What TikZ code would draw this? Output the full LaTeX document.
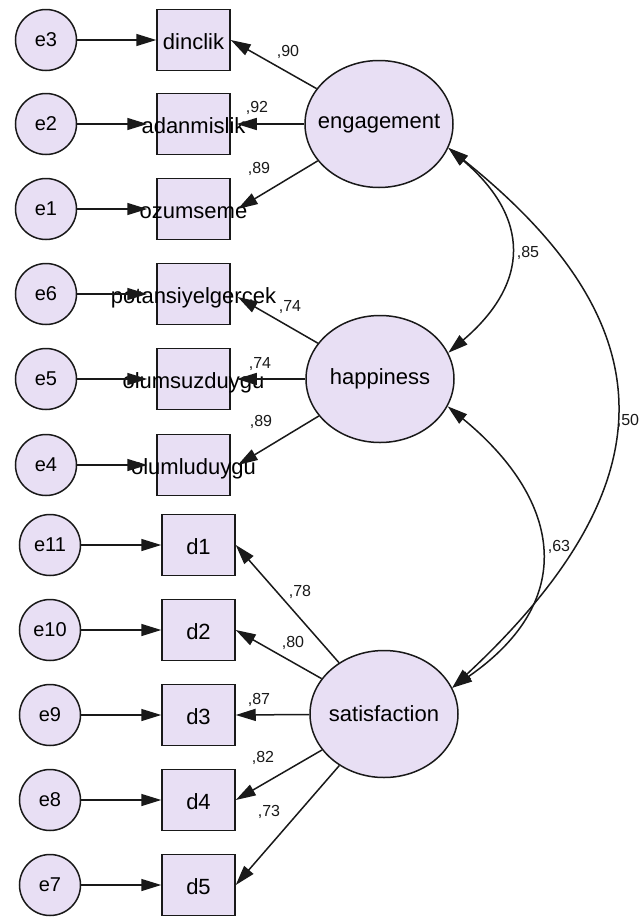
\documentclass[tikz,border=0pt]{standalone}
\usepackage{fontspec}
\setmainfont{Liberation Sans}
\usetikzlibrary{arrows.meta,shapes.geometric}
\definecolor{lat}{RGB}{232,223,244}
\definecolor{ln}{RGB}{25,25,25}
\begin{document}
\begin{tikzpicture}[x=1pt,y=-1pt,
  errc/.style={circle,draw=ln,line width=1.5pt,fill=lat,minimum size=61pt,inner sep=0pt,font=\fontsize{20}{20}\selectfont},
  obsbox/.style={rectangle,draw=ln,line width=1.5pt,fill=lat,minimum width=73pt,minimum height=61pt,inner sep=0pt},
  obstext/.style={inner sep=0pt,text height=16pt,text depth=4pt,font=\fontsize{22}{22}\selectfont},
  latent/.style={ellipse,draw=ln,line width=1.5pt,fill=lat,minimum width=148pt,minimum height=127pt,inner sep=0pt},
  lattext/.style={inner sep=0pt,font=\fontsize{22}{22}\selectfont},
  regarrow/.style={-{Triangle[length=20pt,width=12pt]},draw=ln,line width=1.5pt},
  covarrow/.style={{Triangle[length=20pt,width=12pt]}-{Triangle[length=20pt,width=12pt]},draw=ln,line width=1.5pt},
  coef/.style={inner sep=0pt,font=\fontsize{16}{16}\selectfont,text=ln}]
\useasboundingbox[fill=white] (0,0) rectangle (640,919);

% latent variables
\node[latent,label={[lattext]center:engagement}] (eng) at (379,124) {};
\node[latent,label={[lattext]center:happiness}] (hap) at (380,379) {};
\node[latent,label={[lattext]center:satisfaction}] (sat) at (384,714) {};

% error terms
\node[errc] (e3) at (46,40) {e3};
\node[errc] (e2) at (46,124) {e2};
\node[errc] (e1) at (46,209) {e1};
\node[errc] (e6) at (46,294) {e6};
\node[errc] (e5) at (46,379) {e5};
\node[errc] (e4) at (46,465) {e4};
\node[errc] (e11) at (50,545) {e11};
\node[errc] (e10) at (50,630) {e10};
\node[errc] (e9) at (50,715) {e9};
\node[errc] (e8) at (50,800) {e8};
\node[errc] (e7) at (50,885) {e7};

% observed variables
\node[obsbox] (b1) at (193.5,40) {};
\node[obsbox] (b2) at (193.5,124) {};
\node[obsbox] (b3) at (193.5,209) {};
\node[obsbox] (b4) at (193.5,294) {};
\node[obsbox] (b5) at (193.5,379) {};
\node[obsbox] (b6) at (193.5,465) {};
\node[obsbox] (d1) at (198.5,545) {};
\node[obsbox] (d2) at (198.5,630) {};
\node[obsbox] (d3) at (198.5,715) {};
\node[obsbox] (d4) at (198.5,800) {};
\node[obsbox] (d5) at (198.5,885) {};

\node[obstext] (t1) at (193.5,43) {dinclik};
\node[obstext] (t2) at (193.5,127) {adanmislik};
\node[obstext] (t3) at (193.5,212) {ozumseme};
\node[obstext] (t4) at (193.5,297) {potansiyelgercek};
\node[obstext] (t5) at (193.5,382) {olumsuzduygu};
\node[obstext] (t6) at (193.5,468) {olumluduygu};
\node[obstext] (td1) at (198.5,548) {d1};
\node[obstext] (td2) at (198.5,633) {d2};
\node[obstext] (td3) at (198.5,718) {d3};
\node[obstext] (td4) at (198.5,803) {d4};
\node[obstext] (td5) at (198.5,888) {d5};

% error arrows
\draw[regarrow] (e3) -- (b1.west);
\draw[regarrow] (e2) -- ([xshift=-9pt]b2.west);
\draw[regarrow] (e1) -- ([xshift=-9pt]b3.west);
\draw[regarrow] (e6) -- ([xshift=-9pt]b4.west);
\draw[regarrow] (e5) -- ([xshift=-9pt]b5.west);
\draw[regarrow] (e4) -- ([xshift=-9pt]b6.west);
\draw[regarrow] (e11) -- (d1.west);
\draw[regarrow] (e10) -- (d2.west);
\draw[regarrow] (e9) -- (d3.west);
\draw[regarrow] (e8) -- (d4.west);
\draw[regarrow] (e7) -- (d5.west);

% loadings
\draw[regarrow] (eng) -- (b1.east);
\draw[regarrow] (eng) -- ([xshift=6pt]b2.east);
\draw[regarrow] (eng) -- ([xshift=7pt]b3.east);
\draw[regarrow] (hap) -- ([xshift=7pt,yshift=-3pt]b4.east);
\draw[regarrow] (hap) -- ([xshift=6pt]b5.east);
\draw[regarrow] (hap) -- ([xshift=7pt]b6.east);
\draw[regarrow] (sat) -- (d1.east);
\draw[regarrow] (sat) -- (d2.east);
\draw[regarrow] (sat) -- (d3.east);
\draw[regarrow] (sat) -- (d4.east);
\draw[regarrow] (sat) -- (d5.east);

% covariances
\draw[covarrow] (eng.-19) .. controls +(82,70) and +(82,-70) .. (hap.21);
\draw[covarrow] (hap.-22) .. controls +(110,90) and +(130,-90) .. (sat.21);
\draw[covarrow] (eng.-19) .. controls +(220,176) and +(220,-205) .. (sat.21);

% coefficients
\node[coef] (c1) at (288,52) {,90};
\node[coef] (c2) at (257,108) {,92};
\node[coef] (c3) at (259,169) {,89};
\node[coef] (c4) at (290,307) {,74};
\node[coef] (c5) at (260,364) {,74};
\node[coef] (c6) at (261,422) {,89};
\node[coef] (c7) at (300,592) {,78};
\node[coef] (c8) at (293,643) {,80};
\node[coef] (c9) at (259,700) {,87};
\node[coef] (c10) at (263,758) {,82};
\node[coef] (c11) at (269,812) {,73};
\node[coef] (c12) at (528,253) {,85};
\node[coef] (c13) at (559,547) {,63};
\node[coef] (c14) at (628,421) {,50};
\end{tikzpicture}
\end{document}
